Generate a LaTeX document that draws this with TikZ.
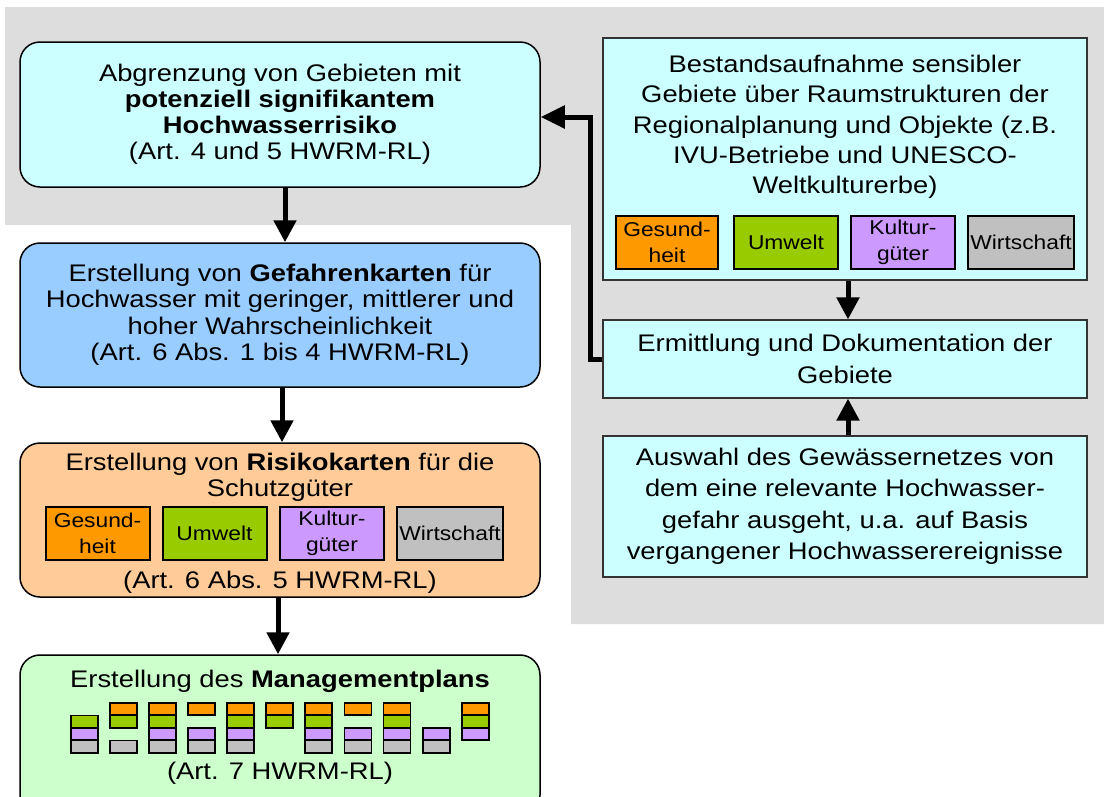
\documentclass[tikz,border=0pt]{standalone}
\usepackage{fontspec}
\setmainfont{Liberation Sans}[FakeStretch=1.14]
\usetikzlibrary{arrows.meta,calc}
\definecolor{bggray}{HTML}{DDDDDD}
\definecolor{cyanbox}{HTML}{CCFFFF}
\definecolor{bluebox}{HTML}{99CCFF}
\definecolor{peachbox}{HTML}{FFCC99}
\definecolor{greenbox}{HTML}{CCFFCC}
\definecolor{catorange}{HTML}{FF9900}
\definecolor{catgreen}{HTML}{99CC00}
\definecolor{catpurple}{HTML}{CC99FF}
\definecolor{catgray}{HTML}{C0C0C0}
\tikzset{
  mainbox/.style={draw=black, line width=1.5pt, rounded corners=20pt, inner sep=0pt, align=center},
  sidebox/.style={draw=black!80, line width=1.2pt, fill=cyanbox, inner sep=0pt, align=center, minimum width=484pt},
  txt/.style={inner sep=0pt, align=center, font=\fontsize{24}{26}\selectfont},
  cat/.style={draw=black, line width=2pt, minimum width=104pt, minimum height=53pt, inner sep=0pt, align=center, font=\fontsize{20}{26}\selectfont},
  bar/.style={draw=black, line width=1.8pt},
  arr/.style={line width=5pt, -{Triangle[length=22pt,width=22pt]}}
}
\begin{document}
\begin{tikzpicture}[x=1pt,y=-1pt]
\useasboundingbox (0,0) rectangle (1104,796);
% gray background
\fill[bggray] (5,7) -- (1104,7) -- (1104,624) -- (571,624) -- (571,225) -- (5,225) -- cycle;

% left column
\node[mainbox, fill=cyanbox, minimum width=520pt, minimum height=145pt,
      font=\fontsize{24}{26}\selectfont] (b1) at (280,114.5)
  {Abgrenzung von Gebieten mit\\\textbf{potenziell signifikantem}\\\textbf{Hochwasserrisiko}\\(Art. 4 und 5 HWRM-RL)};
\node[mainbox, fill=bluebox, minimum width=520pt, minimum height=144pt,
      font=\fontsize{24}{26.5}\selectfont] (b2) at (280,315)
  {Erstellung von \textbf{Gefahrenkarten} für\\Hochwasser mit geringer, mittlerer und\\hoher Wahrscheinlichkeit\\(Art. 6 Abs. 1 bis 4 HWRM-RL)};
\node[mainbox, fill=peachbox, minimum width=520pt, minimum height=154pt] (b3) at (280,520) {};
\node[txt] (b3t) at (280,477) {Erstellung von \textbf{Risikokarten} für die\\Schutzgüter};
\node[cat, fill=catorange] (b3a) at (97.5,533.5) {Gesund-\\heit};
\node[cat, fill=catgreen] (b3b) at (214.5,533.5) {Umwelt};
\node[cat, fill=catpurple] (b3c) at (332,533.5) {Kultur-\\güter};
\node[cat, fill=catgray, minimum width=106pt] (b3d) at (450,533.5) {Wirtschaft};
\node[txt] (b3f) at (280,582) {(Art. 6 Abs. 5 HWRM-RL)};

\node[mainbox, fill=greenbox, minimum width=520pt, minimum height=160pt] (b4) at (280,735) {};
\node[txt] (b4t) at (280,681) {Erstellung des \textbf{Managementplans}};
\node[txt] (b4f) at (280,773) {(Art. 7 HWRM-RL)};
% management plan bars: columns with rows (1=orange,2=green,3=purple,4=gray)
\foreach \col/\rows in {0/{2,3,4},1/{1,2,4},2/{1,2,3,4},3/{1,3,4},4/{1,2,3,4},5/{1,2},6/{1,2,3,4},7/{1,3,4},8/{1,2,3,4},9/{3,4},10/{1,2,3}}{
  \foreach \r in \rows {
    \pgfmathsetmacro{\xl}{70.7+39.1*\col}
    \pgfmathsetmacro{\yt}{703+12.5*(\r-1)}
    \ifcase\r\or\def\bc{catorange}\or\def\bc{catgreen}\or\def\bc{catpurple}\or\def\bc{catgray}\fi
    \draw[bar, fill=\bc] (\xl,\yt) rectangle ++(27,12.3);
  }
}

% right column
\node[sidebox, minimum height=242pt] (r1) at (845,159) {};
\node[txt, font=\fontsize{24}{30.3}\selectfont] (r1t) at (845,127)
  {Bestandsaufnahme sensibler\\Gebiete über Raumstrukturen der\\Regionalplanung und Objekte (z.B.\\IVU-Betriebe und UNESCO-\\Weltkulturerbe)};
\node[cat, fill=catorange, minimum width=102pt] (r1a) at (667,242.5) {Gesund-\\heit};
\node[cat, fill=catgreen] (r1b) at (786,242.5) {Umwelt};
\node[cat, fill=catpurple] (r1c) at (903,242.5) {Kultur-\\güter};
\node[cat, fill=catgray, minimum width=106pt] (r1d) at (1021,242.5) {Wirtschaft};

\node[sidebox, minimum height=78pt, font=\fontsize{24}{32}\selectfont] (r2) at (845,359)
  {Ermittlung und Dokumentation der\\Gebiete};
\node[sidebox, minimum height=141pt, font=\fontsize{24}{31.5}\selectfont] (r3) at (845,506.5)
  {Auswahl des Gewässernetzes von\\dem eine relevante Hochwasser-\\gefahr ausgeht, u.a. auf Basis\\vergangener Hochwasserereignisse};

% connectors
\coordinate (c1) at (285,0);
\coordinate (c2) at (282,0);
\coordinate (c3) at (278,0);
\coordinate (c4) at (848,0);
\coordinate (c5) at (590,0);
\draw[arr] (b1.south -| c1) -- (b2.north -| c1);
\draw[arr] (b2.south -| c2) -- (b3.north -| c2);
\draw[arr] (b3.south -| c3) -- (b4.north -| c3);
\draw[arr] (r1.south -| c4) -- (r2.north -| c4);
\draw[arr] (r3.north -| c4) -- (r2.south -| c4);
\draw[line width=5pt, -{Triangle[length=24pt,width=22pt]}] (r2.west) -- (r2.west -| c5) |- ($(b1.east)+(0,2.5)$);
\end{tikzpicture}
\end{document}
